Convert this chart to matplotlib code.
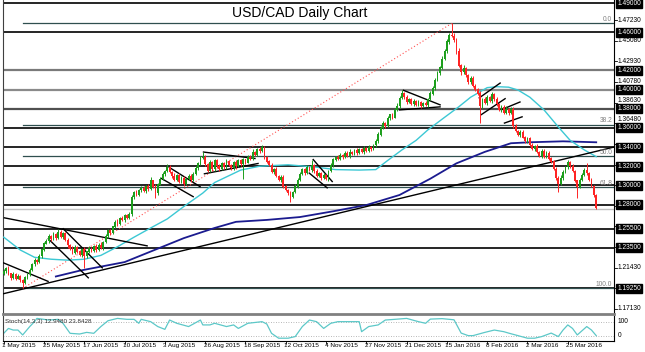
import matplotlib
matplotlib.use("Agg")
import matplotlib.pyplot as plt
import numpy as np
from matplotlib.transforms import blended_transform_factory

plt.rcParams['font.family'] = ['Liberation Sans', 'DejaVu Sans']

# ---------------- data ----------------
TITLE = "USD/CAD Daily Chart"
FIRST_OPEN = 1.2080
CLOSE = [
 1.2110,1.2135,1.2080,1.2040,1.2075,1.2030,1.2055,1.2010,1.1985,1.2040,
 1.2075,1.2120,1.2180,1.2220,1.2200,1.2265,1.2330,1.2395,1.2420,1.2470,
 1.2440,1.2490,1.2455,1.2510,1.2465,1.2500,1.2430,1.2375,1.2340,1.2300,
 1.2360,1.2310,1.2275,1.2330,1.2260,1.2310,1.2345,1.2320,1.2365,1.2330,
 1.2380,1.2350,1.2410,1.2470,1.2530,1.2505,1.2570,1.2620,1.2600,1.2660,
 1.2640,1.2690,1.2660,1.2700,1.2880,1.2930,1.2900,1.2950,1.2975,1.2940,
 1.2990,1.2960,1.3050,1.2990,1.2920,1.3010,1.3070,1.3120,1.3150,1.3190,
 1.3140,1.3100,1.3060,1.3110,1.3040,1.3080,1.3020,1.3070,1.3100,1.3060,
 1.3120,1.3180,1.3230,1.3290,1.3300,1.3220,1.3150,1.3240,1.3170,1.3260,
 1.3200,1.3170,1.3230,1.3190,1.3250,1.3210,1.3180,1.3240,1.3200,1.3260,
 1.3220,1.3270,1.3240,1.3300,1.3280,1.3350,1.3320,1.3380,1.3360,1.3400,
 1.3290,1.3250,1.3210,1.3140,1.3170,1.3100,1.3060,1.3090,1.2990,1.2950,
 1.2920,1.2880,1.2930,1.2990,1.3060,1.3120,1.3170,1.3130,1.3190,1.3160,
 1.3210,1.3150,1.3100,1.3130,1.3080,1.3110,1.3070,1.3150,1.3210,1.3270,
 1.3300,1.3280,1.3320,1.3300,1.3340,1.3310,1.3350,1.3330,1.3370,1.3340,
 1.3380,1.3350,1.3390,1.3360,1.3400,1.3380,1.3420,1.3460,1.3530,1.3600,
 1.3650,1.3620,1.3700,1.3740,1.3710,1.3790,1.3830,1.3910,1.3960,1.3920,
 1.3870,1.3900,1.3850,1.3880,1.3840,1.3870,1.3830,1.3860,1.3840,1.3900,
 1.3960,1.4020,1.4100,1.4170,1.4230,1.4320,1.4400,1.4500,1.4570,1.4560,
 1.4520,1.4400,1.4250,1.4180,1.4220,1.4150,1.4080,1.4120,1.4040,1.4000,
 1.3960,1.3830,1.3900,1.3860,1.3920,1.3880,1.3950,1.3900,1.3850,1.3790,
 1.3820,1.3760,1.3800,1.3760,1.3800,1.3620,1.3570,1.3530,1.3560,1.3500,
 1.3460,1.3490,1.3420,1.3380,1.3410,1.3350,1.3310,1.3360,1.3300,1.3340,
 1.3280,1.3250,1.3170,1.3080,1.3020,1.3080,1.3140,1.3190,1.3240,1.3200,
 1.3150,1.3050,1.2990,1.3060,1.3110,1.3160,1.3130,1.3060,1.2990,1.2900,
 1.2770]
UPPER_WICK_PIPS = [
 20,15,25,10,20,15,20,10,15,20, 15,20,10,25,15,20,10,15,20,25,
 15,20,10,35,20,15,10,20,15,25, 15,10,20,15,25,10,20,15,10,20,
 15,25,10,20,15,20,10,15,25,15, 20,10,15,20,25,15,20,10,15,20,
 15,20,40,10,25,15,20,15,10,30, 20,15,25,10,20,15,20,10,15,20,
 15,20,10,15,50,20,15,25,10,20, 15,20,10,15,25,20,10,15,20,15,
 20,15,10,20,15,25,10,15,20,25, 15,20,10,25,15,20,10,15,20,10,
 15,20,10,25,15,20,15,10,20,15, 50,15,20,10,15,20,10,15,20,15,
 10,20,15,10,20,15,25,10,15,20, 15,10,20,15,25,10,15,20,25,15,
 20,15,25,10,20,15,25,20,35,15, 20,15,10,25,15,20,10,15,20,15,
 20,15,25,20,15,25,20,30,20,120, 25,20,30,15,40,20,15,25,20,15,
 20,25,15,20,25,15,20,15,25,10, 20,15,25,10,20,15,20,10,15,20,
 15,20,10,25,15,20,10,15,20,15, 20,15,10,20,15,25,20,15,20,15,
 20,15,10,20,15,25,70,15,20,15, 10]
LOWER_WICK_PIPS = [
 15,20,10,25,15,20,10,15,60,15, 20,15,10,20,15,10,20,15,10,20,
 15,10,20,15,10,20,15,25,10,20, 15,20,10,25,120,15,20,10,15,20,
 10,15,20,10,15,20,10,15,20,15, 10,20,15,10,15,20,10,15,20,10,
 15,20,10,15,50,20,10,15,20,10, 15,20,10,15,20,10,25,15,10,20,
 15,10,20,15,10,20,15,10,20,15, 20,15,10,20,15,10,20,15,25,10,
 15,150,20,10,15,20,10,15,20,10, 15,20,10,15,20,10,15,20,15,10,
 20,50,15,10,20,15,10,20,15,10, 15,20,10,15,20,10,15,20,10,15,
 20,10,15,20,10,15,20,10,15,20, 10,15,20,10,15,20,10,15,20,10,
 15,20,10,15,20,10,15,20,10,15, 20,10,15,20,10,15,20,10,15,20,
 10,15,20,10,15,20,10,15,20,15, 20,25,15,30,20,15,25,20,15,20,
 15,180,20,15,25,10,20,15,20,15, 20,15,10,25,15,20,10,15,20,10,
 15,20,10,15,20,10,15,20,10,15, 20,15,10,20,90,15,20,10,15,20,
 10,15,120,20,15,10,20,15,10,20, 20]

# moving averages (read at sample bars)
CYAN_BARS = [0,7,13,20,27,34,41,48,55,62,69,76,84,89,100,108,120,132,140,150,157,
             162,168,174,179,186,192,197,204,208,213,217,222,228,234,239,245,250]
CYAN_VALUES = [1.2460,1.2326,1.2250,1.2230,1.2220,1.2230,1.2270,1.2360,1.2460,1.2556,
               1.2650,1.2780,1.2920,1.3030,1.3160,1.3200,1.3215,1.3190,1.3165,1.3160,
               1.3165,1.3260,1.3370,1.3470,1.3580,1.3710,1.3820,1.3920,1.4020,1.4030,
               1.4025,1.3995,1.3920,1.3787,1.3610,1.3470,1.3370,1.3300]
NAVY_BARS = [22,32,51,62,76,89,98,111,125,139,153,167,180,191,203,214,222,236,250]
NAVY_VALUES = [1.2050,1.2110,1.2200,1.2310,1.2450,1.2556,1.2620,1.2640,1.2670,1.2730,
               1.2795,1.2900,1.3070,1.3230,1.3350,1.3440,1.3450,1.3460,1.3450]

# stochastic
STOCH_BARS = [0,2,4,6,8,11,13,14,19,23,25,28,32,35,38,41,44,48,52,55,57,58,62,65,68,
              70,73,78,80,83,84,87,89,94,97,99,103,109,111,113,116,120,123,126,129,
              132,135,138,141,146,150,151,154,158,161,165,170,175,178,180,185,190,193,
              196,198,203,207,211,213,217,221,224,227,231,234,236,238,240,242,246,248,250]
STOCH_VALUES = [30,51,44,44,23,59,80,94,87,90,73,30,27,34,30,59,84,94,90,90,73,90,80,59,47,
                87,73,59,70,87,66,66,73,59,66,51,73,80,70,30,9,9,16,59,87,
                80,51,73,80,80,80,37,59,66,87,90,94,80,73,91,93,88,31,
                20,20,34,44,37,31,20,9,9,16,31,16,44,66,51,23,59,44,20]
STOCH_LABEL = "Stoch(14,3,3) 12.9480 23.8428"
STOCH_AXIS_LABELS = [("100", 80), ("0", 20)]

# horizontal levels
LEVELS = [1.4900,1.4600,1.4200,1.4000,1.3800,1.3600,1.3400,1.3200,1.3000,1.2800,1.2550,1.2350,1.1925]
PRICE_TICKS = [1.4723,1.4508,1.4293,1.4078,1.3863,1.3648,1.3433,1.3218,1.3003,1.2788,
               1.2573,1.2358,1.2143,1.1928,1.1713]
BID = 1.2755

# Fibonacci retracement (low -> high)
FIB_LOW_BAR, FIB_LOW = 8, 1.1925
FIB_HIGH_BAR, FIB_HIGH = 189, 1.4690
FIB_RATIOS = [0.0, 38.2, 50.0, 61.8, 100.0]

# trend lines: (bar0, price0, bar1, price1)
TRENDLINES = [
    (-0.3, 1.1869, 257.5, 1.3400),
    (0.0, 1.2663, 60.8, 1.2368),
    (-0.3, 1.2194, 19.0, 1.1996),
    (18.6, 1.2448, 35.9, 1.2031),
    (24.9, 1.2553, 41.8, 1.2135),
    (69.6, 1.3192, 83.1, 1.2983),
    (66.2, 1.3077, 80.2, 1.2879),
    (84.0, 1.3349, 106.3, 1.3280),
    (84.4, 1.3120, 107.6, 1.3230),
    (130.4, 1.3275, 138.8, 1.3035),
    (128.7, 1.3133, 136.7, 1.2970),
    (168.4, 1.3995, 184.4, 1.3838),
    (166.7, 1.3787, 184.4, 1.3820),
    (200.4, 1.3909, 209.7, 1.4072),
    (201.3, 1.3735, 211.8, 1.3909),
    (209.7, 1.3787, 218.1, 1.3873),
    (211.0, 1.3648, 219.0, 1.3718),
]

DATE_LABELS = ["1 May 2015","25 May 2015","17 Jun 2015","10 Jul 2015","3 Aug 2015",
               "26 Aug 2015","18 Sep 2015","12 Oct 2015","4 Nov 2015","27 Nov 2015",
               "21 Dec 2015","15 Jan 2016","8 Feb 2016","2 Mar 2016","25 Mar 2016"]
DATE_STEP = 17

assert len(CLOSE) == len(UPPER_WICK_PIPS) == len(LOWER_WICK_PIPS)
assert len(CYAN_BARS) == len(CYAN_VALUES)
assert len(NAVY_BARS) == len(NAVY_VALUES)
assert len(STOCH_BARS) == len(STOCH_VALUES)

# ---------------- figure ----------------
W, H = 645, 352
fig = plt.figure(figsize=(W/100, H/100), dpi=100)
def fx(px): return px / W
def fy(py): return 1 - py / H

XL = (-0.3, 257.5)
YL = (1.16584, 1.49344)
ax = fig.add_axes([fx(3), fy(314), fx(614) - fx(3), fy(0) - fy(314)])
ax.set_xlim(*XL)
ax.set_ylim(*YL)
ax.set_xticks([]); ax.set_yticks([])
ax.spines['top'].set_visible(False)
ax.spines['left'].set_color('#404040'); ax.spines['left'].set_linewidth(0.8)
ax.spines['right'].set_color('black'); ax.spines['right'].set_linewidth(0.8)
ax.spines['bottom'].set_color('#808080'); ax.spines['bottom'].set_linewidth(2.0)

close = np.array(CLOSE)
opens = np.concatenate([[FIRST_OPEN], close[:-1]])
hi = np.maximum(opens, close) + np.array(UPPER_WICK_PIPS) / 10000.0
lo = np.minimum(opens, close) - np.array(LOWER_WICK_PIPS) / 10000.0
x = np.arange(len(close))
up = close >= opens
GREEN, RED = '#1c9e1c', '#ff2424'
cols = np.where(up, GREEN, RED)

# levels
lvl_color = {1.42: '#7a7a7a', 1.40: '#8a8a8a', 1.38: '#505050'}
for L in LEVELS:
    c = lvl_color.get(round(L, 4), 'black')
    lw = 1.6 if c != 'black' else 1.2
    ax.axhline(L, color=c, lw=lw, zorder=1)
ax.axhline(BID, color='#c0c0c0', lw=1.0, zorder=1)

# fib
rng = FIB_HIGH - FIB_LOW
blend = blended_transform_factory(ax.transAxes, ax.transData)
for r in FIB_RATIOS:
    lvl = FIB_HIGH - rng * r / 100.0
    ax.plot([FIB_LOW_BAR, XL[1]], [lvl, lvl], color='#2f4f4f', lw=0.9, zorder=1.5)
    ax.text(0.997, lvl + 0.0004, f"{r:.1f}", transform=blend, ha='right', va='bottom',
            fontsize=4.8, color='#808080', zorder=6)
ax.plot([FIB_LOW_BAR, FIB_HIGH_BAR], [FIB_LOW, FIB_HIGH], color='#ff5050', lw=0.8,
        ls=(0, (1, 2)), zorder=2)

# moving averages
ax.plot(NAVY_BARS, NAVY_VALUES, color='#1b1b8f', lw=1.3, zorder=3)
ax.plot(CYAN_BARS, CYAN_VALUES, color='#3cc8d4', lw=1.0, zorder=3)

# trend lines
for b0, p0, b1, p1 in TRENDLINES:
    ax.plot([b0, b1], [p0, p1], color='black', lw=1.0, zorder=4, solid_capstyle='butt')

# candles
ax.vlines(x, lo, hi, colors=cols, lw=0.7, zorder=5)
ax.bar(x, np.abs(close - opens) + 0.0003, bottom=np.minimum(opens, close) - 0.00015,
       width=0.75, color=cols, linewidth=0, zorder=5)

# price axis labels
px_per_price = 314.0 / (YL[1] - YL[0])
for t in PRICE_TICKS:
    ax.plot([1.0, 1.005], [t, t], transform=blend, color='black', lw=0.6, clip_on=False)
    nearest = min(LEVELS, key=lambda L: abs(t - L))
    gap = abs(t - nearest) * px_per_price
    if gap >= 4.5:
        ty = t
        if gap < 8.0:  # nudge away from the boxed level label
            ty = t + np.sign(t - nearest) * (8.0 - gap) / px_per_price
        ax.text(1.0055, ty, f"{t:.5f}", transform=blend, ha='left', va='center', fontsize=4.8,
                color='black', clip_on=False, zorder=8)
for L in LEVELS:
    ax.text(1.0055, L, f"{L:.5f}", transform=blend, ha='left', va='center', fontsize=4.8,
            color='white', clip_on=False, zorder=9,
            bbox=dict(boxstyle='square,pad=0.15', fc='black', ec='black'))

fig.text(fx(300), fy(12.5), TITLE, ha='center', va='center', fontsize=10, color='black')

# stochastic panel
sax = fig.add_axes([fx(3), fy(341), fx(614) - fx(3), fy(316) - fy(341)])
sax.set_xlim(*XL)
sax.set_ylim(-3, 104.3)
sax.set_yticks([])
sax.spines['top'].set_visible(False)
for s in ['left', 'right', 'bottom']:
    sax.spines[s].set_color('black'); sax.spines[s].set_linewidth(0.8)
sax.spines['left'].set_color('#404040')
sax.axhline(80, color='#a0a0a0', lw=0.6, ls=(0, (1, 2)))
sax.axhline(20, color='#a0a0a0', lw=0.6, ls=(0, (1, 2)))
sax.plot(STOCH_BARS, STOCH_VALUES, color='#5cc8c8', lw=0.9)
sax.text(0.004, 0.77, STOCH_LABEL, transform=sax.transAxes, ha='left', va='center',
         fontsize=4.5, color='#303030')
sblend = blended_transform_factory(sax.transAxes, sax.transData)
for lab, v in STOCH_AXIS_LABELS:
    sax.text(1.0055, v, lab, transform=sblend, ha='left', va='center', fontsize=4.8,
             color='black', clip_on=False)
tick_bars = [i * DATE_STEP for i in range(len(DATE_LABELS))]
sax.set_xticks(tick_bars)
sax.tick_params(axis='x', length=2, width=0.6, labelbottom=False)
xb = blended_transform_factory(sax.transData, fig.transFigure)
for b, lab in zip(tick_bars, DATE_LABELS):
    sax.text(b - 0.6, fy(345.5), lab, transform=xb, ha='left', va='center', fontsize=4.6,
             color='black', clip_on=False)

fig.savefig("out.png", dpi=100, facecolor='white')
